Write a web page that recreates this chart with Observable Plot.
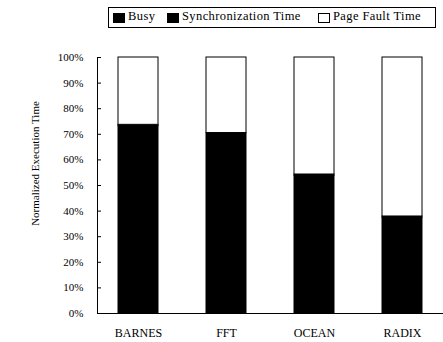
<!DOCTYPE html>
<html><head><meta charset="utf-8">
<script src="https://cdn.jsdelivr.net/npm/d3@7"></script>
<script src="https://cdn.jsdelivr.net/npm/@observablehq/plot@0.6"></script>
<style>
body{margin:0;background:#fff;font-family:"Liberation Serif","DejaVu Serif",serif;}
#legend{position:relative;height:30px;}
#legend .box{position:absolute;left:108px;top:7px;width:326px;height:19px;border:1px solid #000;font-size:12.5px;white-space:nowrap;}
.sw{position:absolute;top:5px;width:10px;height:8px;border:1px solid #000;}
.lt{position:absolute;top:1px;letter-spacing:0.4px;}
</style></head>
<body>
<div id="legend"><div class="box" id="lbox"></div></div>
<div id="chart"></div>
<script>
const categories = ["BARNES", "FFT", "OCEAN", "RADIX"];
const seriesNames = ["Busy", "Synchronization Time", "Page Fault Time"];
const seriesColors = ["#000", "#000", "#fff"];
const busy = [73.2, 70.5, 53.8, 37.4];
const sync = [0.5, 0.0, 0.5, 0.5];
const pageFault = [26.3, 29.5, 45.7, 62.1];
const yTicks = [0, 10, 20, 30, 40, 50, 60, 70, 80, 90, 100];

const seriesValues = [busy, sync, pageFault];
const data = [];
seriesNames.forEach((s, i) => categories.forEach((c, j) => data.push({category: c, series: s, value: seriesValues[i][j]})));

// legend layout (HTML, outside the SVG)
const swatchLeft = [4, 58, 209];
const textLeft = [19, 73, 224];
const lbox = document.getElementById("lbox");
seriesNames.forEach((s, i) => {
  const sw = document.createElement("span");
  sw.className = "sw"; sw.style.background = seriesColors[i]; sw.style.left = swatchLeft[i] + "px";
  lbox.appendChild(sw);
  const t = document.createElement("span");
  t.className = "lt"; t.style.left = textLeft[i] + "px"; t.textContent = s;
  lbox.appendChild(t);
});

const chart = Plot.plot({
  width: 443, height: 312,
  marginLeft: 97, marginRight: 0, marginTop: 27, marginBottom: 29,
  style: {fontFamily: "'Liberation Serif', 'DejaVu Serif', serif", fontSize: "11px", color: "#000"},
  x: {domain: categories, paddingInner: 0.54, paddingOuter: 0.23, label: null},
  y: {domain: [0, 100], label: null},
  color: {domain: seriesNames, range: seriesColors},
  marks: [
    Plot.barY(data, {x: "category", y: "value", fill: "series", stroke: "#000", strokeWidth: 1, order: seriesNames}),
    Plot.frame({anchor: "left", stroke: "#000"}),
    Plot.ruleY([0], {stroke: "#000"}),
    Plot.axisY({ticks: yTicks, tickFormat: () => "", tickSize: -4, label: null}),
    Plot.axisY({ticks: yTicks, tickFormat: d => d + "%", tickSize: 0, tickPadding: 14, fontSize: 11, letterSpacing: "1.5px", label: null}),
    Plot.axisX({tickSize: 0, tickPadding: 15, fontSize: 12, letterSpacing: "1px", label: null}),
    Plot.text(["Normalized Execution Time"], {frameAnchor: "left", textAnchor: "middle", rotate: -90, dx: -62, dy: -22, fontSize: 11})
  ]
});
document.getElementById("chart").appendChild(chart);
</script>
</body></html>
